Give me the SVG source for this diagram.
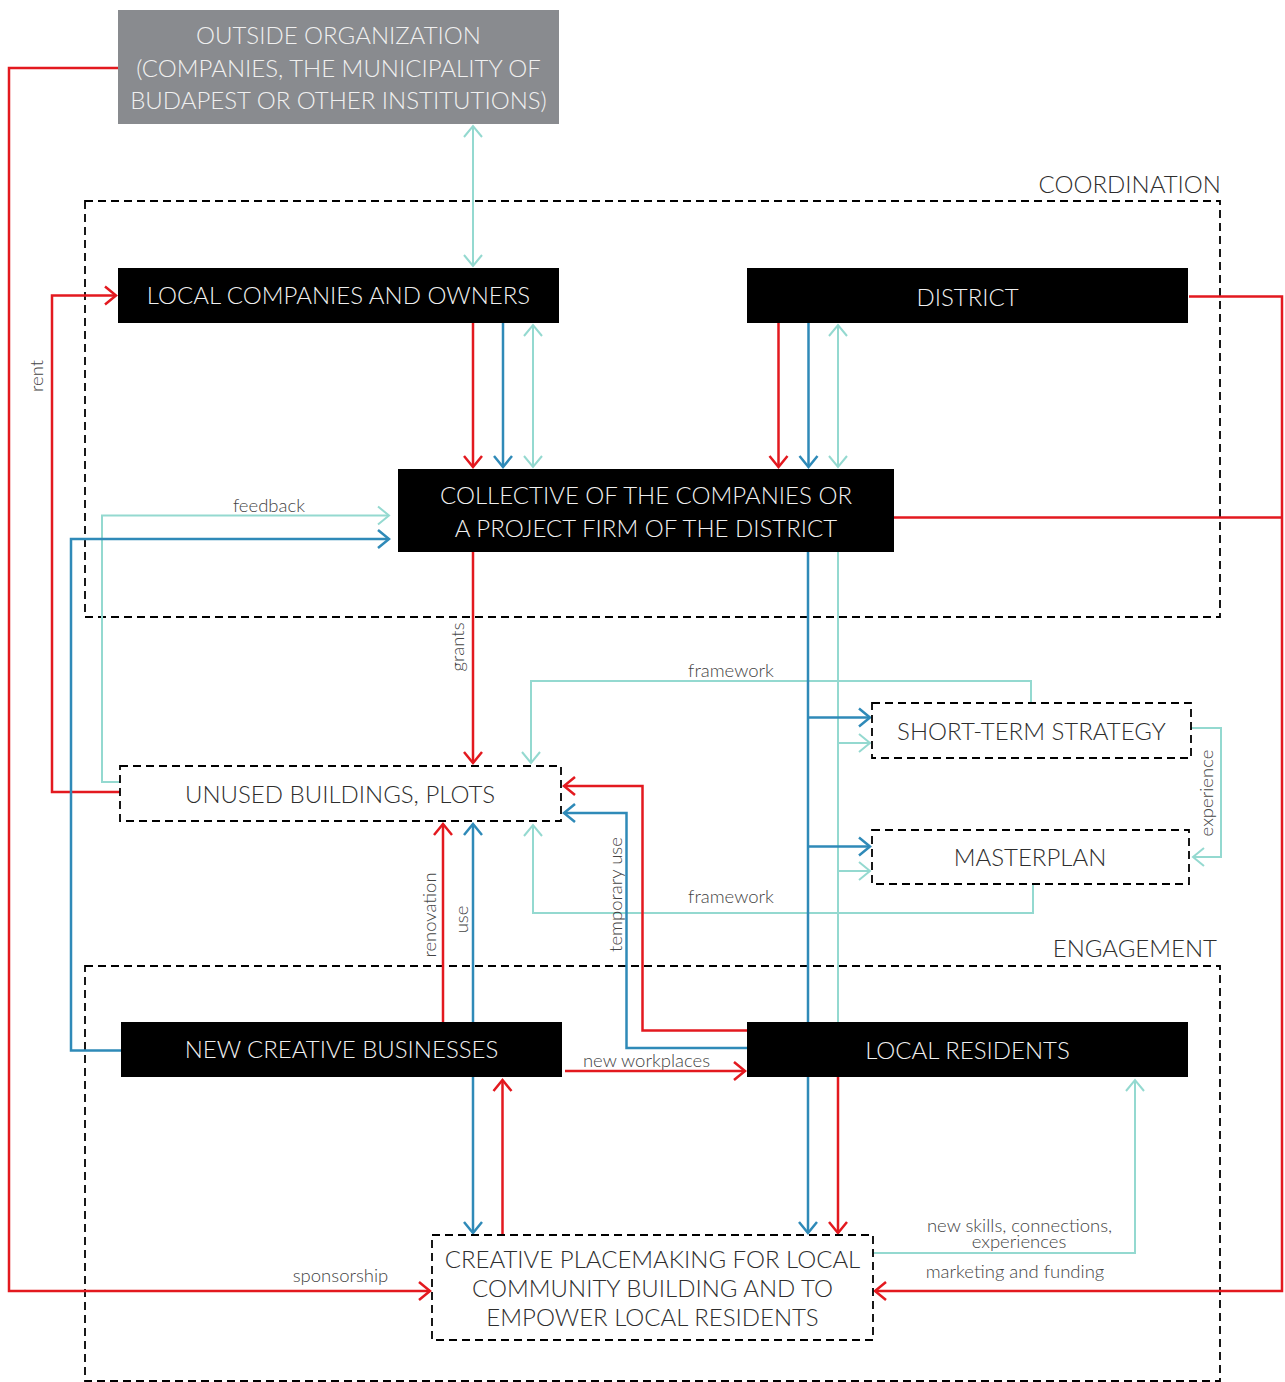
<svg xmlns="http://www.w3.org/2000/svg" width="1285" height="1382" viewBox="0 0 1285 1382">
<defs>
<style>
.t{font-family:Lato,"Liberation Sans",sans-serif;font-weight:300;font-size:24px;text-anchor:middle}
.w{fill:#f0f0f0}
.d{fill:#2e2e2e}
.g{font-family:Lato,"Liberation Sans",sans-serif;font-weight:300;font-size:24px;fill:#2e2e2e;text-anchor:end}
.l{font-family:Lato,"Liberation Sans",sans-serif;font-weight:300;font-size:18.5px;fill:#444444;text-anchor:middle}
.blk{fill:#000000}
.dash{fill:#ffffff;stroke:#000000;stroke-width:1.8;stroke-dasharray:8 5}
.grp{fill:none;stroke:#000000;stroke-width:1.8;stroke-dasharray:8 5}
.r{fill:none;stroke:#e3191f;stroke-width:2.5}
.b{fill:none;stroke:#2f8ab8;stroke-width:2.5}
.c{fill:none;stroke:#94d9d0;stroke-width:2}
</style>
<marker id="mr" markerUnits="userSpaceOnUse" markerWidth="30" markerHeight="30" viewBox="-15 -15 30 30" refX="0" refY="0" orient="auto-start-reverse"><path d="M-11,-9 L0,0 L-11,9" fill="none" stroke="#e3191f" stroke-width="2.5"/></marker>
<marker id="mb" markerUnits="userSpaceOnUse" markerWidth="30" markerHeight="30" viewBox="-15 -15 30 30" refX="0" refY="0" orient="auto-start-reverse"><path d="M-11,-9 L0,0 L-11,9" fill="none" stroke="#2f8ab8" stroke-width="2.5"/></marker>
<marker id="mc" markerUnits="userSpaceOnUse" markerWidth="30" markerHeight="30" viewBox="-15 -15 30 30" refX="0" refY="0" orient="auto-start-reverse"><path d="M-11,-9 L0,0 L-11,9" fill="none" stroke="#94d9d0" stroke-width="2"/></marker>
</defs>
<rect width="1285" height="1382" fill="#ffffff"/>

<g id="coordination">
<rect class="grp" x="85" y="201" width="1135" height="416"/>
<text class="g" x="1221" y="192.5">COORDINATION</text>
</g>
<g id="engagement">
<rect class="grp" x="85" y="966" width="1135" height="415"/>
<text class="g" x="1217" y="957">ENGAGEMENT</text>
</g>

<g id="connectors">
<path class="c" d="M473,126 V266" marker-start="url(#mc)" marker-end="url(#mc)"/>
<path class="r" d="M473,323 V467" marker-end="url(#mr)"/>
<path class="b" d="M503,323 V467" marker-end="url(#mb)"/>
<path class="c" d="M533,325 V467" marker-start="url(#mc)" marker-end="url(#mc)"/>
<path class="r" d="M778.5,323 V467" marker-end="url(#mr)"/>
<path class="b" d="M808.5,323 V467" marker-end="url(#mb)"/>
<path class="c" d="M838,325 V467" marker-start="url(#mc)" marker-end="url(#mc)"/>
<path class="r" d="M118,68 H9 V1291 H430" marker-end="url(#mr)"/>
<path class="r" d="M120,792 H52 V295.5 H116" marker-end="url(#mr)"/>
<path class="r" d="M1189,296.5 H1282 V1291 H875" marker-end="url(#mr)"/>
<path class="r" d="M894,517.5 H1282"/>
<path class="c" d="M120,782 H102 V515.5 H389" marker-end="url(#mc)"/>
<path class="b" d="M121,1050.5 H71 V539 H389" marker-end="url(#mb)"/>
<path class="r" d="M473,552 V763" marker-end="url(#mr)"/>
<path class="c" d="M1031,703 V681 H531 V763" marker-end="url(#mc)"/>
<path class="c" d="M1033,884 V913 H533 V825" marker-end="url(#mc)"/>
<path class="c" d="M838,552 V1022"/>
<path class="b" d="M808,552 V1233" marker-end="url(#mb)"/>
<path class="b" d="M808,717.5 H870" marker-end="url(#mb)"/>
<path class="b" d="M808,846.5 H870" marker-end="url(#mb)"/>
<path class="c" d="M838,743 H870" marker-end="url(#mc)"/>
<path class="c" d="M838,871 H870" marker-end="url(#mc)"/>
<path class="c" d="M1191,728 H1221 V857 H1193" marker-end="url(#mc)"/>
<path class="r" d="M838,1077 V1233" marker-end="url(#mr)"/>
<path class="r" d="M747,1030.5 H642.5 V786 H564" marker-end="url(#mr)"/>
<path class="b" d="M747,1048 H626.5 V813 H564" marker-end="url(#mb)"/>
<path class="r" d="M443,1022 V824" marker-end="url(#mr)"/>
<path class="b" d="M473,1022 V824" marker-end="url(#mb)"/>
<path class="r" d="M565,1071 H745" marker-end="url(#mr)"/>
<path class="b" d="M473,1077 V1233" marker-end="url(#mb)"/>
<path class="r" d="M502.5,1235 V1080" marker-end="url(#mr)"/>
<path class="c" d="M873,1253 H1135 V1080" marker-end="url(#mc)"/>
<text class="l" x="269" y="512">feedback</text>
<text class="l" x="731" y="677">framework</text>
<text class="l" x="731" y="903">framework</text>
<text class="l" transform="translate(464,647) rotate(-90)">grants</text>
<text class="l" transform="translate(42.5,376) rotate(-90)">rent</text>
<text class="l" transform="translate(436,915) rotate(-90)">renovation</text>
<text class="l" transform="translate(467.5,919.5) rotate(-90)">use</text>
<text class="l" transform="translate(622,894.5) rotate(-90)">temporary use</text>
<text class="l" transform="translate(1213,793) rotate(-90)">experience</text>
<text class="l" x="646.5" y="1067">new workplaces</text>
<text class="l" x="340.5" y="1282">sponsorship</text>
<text class="l" x="1019.5" y="1231.5">new skills, connections,</text>
<text class="l" x="1019" y="1248">experiences</text>
<text class="l" x="1015" y="1278">marketing and funding</text>
</g>

<g id="outside-organization">
<rect x="118" y="10" width="441" height="114" fill="#898b8f"/>
<text class="t w" x="338.5" y="44">OUTSIDE ORGANIZATION</text>
<text class="t w" x="338.5" y="76.5">(COMPANIES, THE MUNICIPALITY OF</text>
<text class="t w" x="338.5" y="109">BUDAPEST OR OTHER INSTITUTIONS)</text>
</g>
<g id="local-companies">
<rect class="blk" x="118" y="268" width="441" height="55"/>
<text class="t w" x="338.5" y="304">LOCAL COMPANIES AND OWNERS</text>
</g>
<g id="district">
<rect class="blk" x="747" y="268" width="441" height="55"/>
<text class="t w" x="967.5" y="305.5">DISTRICT</text>
</g>
<g id="collective">
<rect class="blk" x="398" y="469" width="496" height="83"/>
<text class="t w" x="646" y="504">COLLECTIVE OF THE COMPANIES OR</text>
<text class="t w" x="646" y="537">A PROJECT FIRM OF THE DISTRICT</text>
</g>
<g id="short-term-strategy">
<rect class="dash" x="872" y="703" width="319" height="55"/>
<text class="t d" x="1031.5" y="739.5">SHORT-TERM STRATEGY</text>
</g>
<g id="masterplan">
<rect class="dash" x="872" y="830" width="317" height="54"/>
<text class="t d" x="1030" y="866">MASTERPLAN</text>
</g>
<g id="unused-buildings">
<rect class="dash" x="120" y="766" width="441" height="55"/>
<text class="t d" x="340" y="803">UNUSED BUILDINGS, PLOTS</text>
</g>
<g id="new-creative-businesses">
<rect class="blk" x="121" y="1022" width="441" height="55"/>
<text class="t w" x="341.5" y="1058">NEW CREATIVE BUSINESSES</text>
</g>
<g id="local-residents">
<rect class="blk" x="747" y="1022" width="441" height="55"/>
<text class="t w" x="967.5" y="1059">LOCAL RESIDENTS</text>
</g>
<g id="creative-placemaking">
<rect class="dash" x="432" y="1235" width="441" height="105"/>
<text class="t d" x="652.5" y="1268">CREATIVE PLACEMAKING FOR LOCAL</text>
<text class="t d" x="652.5" y="1297">COMMUNITY BUILDING AND TO</text>
<text class="t d" x="652.5" y="1326">EMPOWER LOCAL RESIDENTS</text>
</g>
</svg>
